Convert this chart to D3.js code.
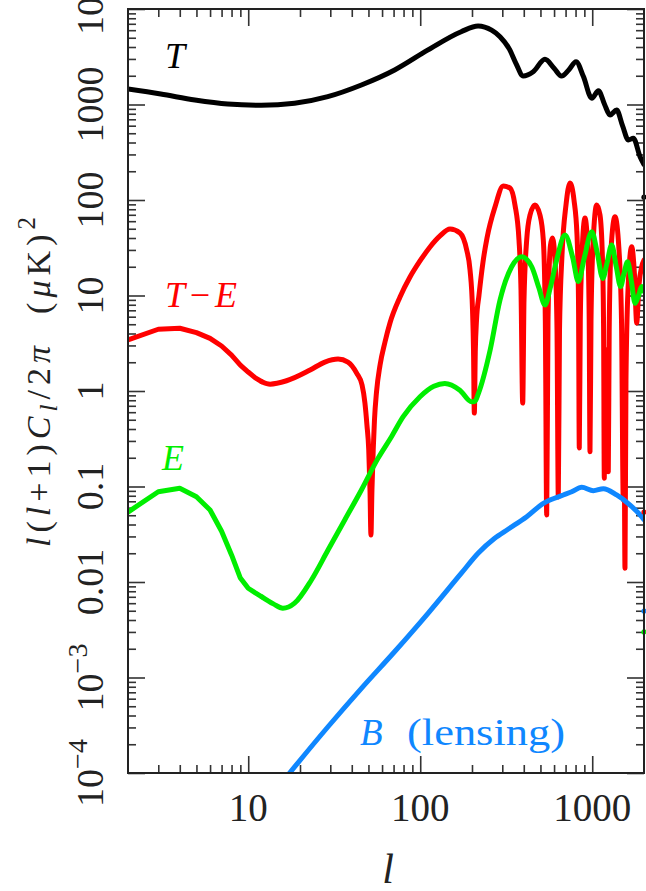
<!DOCTYPE html>
<html><head><meta charset="utf-8">
<script src="https://cdn.jsdelivr.net/npm/d3@7"></script>
<style>
html,body{margin:0;padding:0;background:#fff;overflow:hidden}
svg{display:block}
svg text{font-family:"Liberation Serif","DejaVu Serif","Noto Serif","Tinos","Times New Roman",serif;}
</style></head><body>
<svg id="chart" width="646" height="891" font-family="Liberation Serif, DejaVu Serif, serif"></svg>
<script>
// Band powers l(l+1)C_l/2π in μK² against multipole l

// Temperature (T)
const tL = [2, 3.1, 4.9, 7.6, 11.9, 18.6, 29, 45.5, 71, 111, 173, 217, 260, 291, 330, 360, 397, 454, 531, 600, 663, 730, 805, 889, 994, 1087, 1180, 1269, 1387, 1500, 1622, 1734, 1897, 2000];
const tV = [1450, 1288, 1115, 1012, 982, 1030, 1208, 1600, 2297, 3725, 5780, 6640, 6000, 5129, 3800, 2700, 1990, 2203, 2972, 2400, 1986, 2300, 2805, 1960, 1162, 1396, 1000, 776, 875, 600, 425, 443, 284, 235];

// Temperature-polarization cross spectrum (|T-E|)
const teL = [2, 3, 4, 5, 6, 7, 8, 9, 10, 11, 12, 13.4, 16.7, 22.9, 27.9, 33.3, 38, 42.7, 45.9, 47.7, 49, 50.2, 51.05, 51.7, 52.4, 53.3, 54.2, 55.7, 58.4, 62.4, 66.7, 76.3, 87.2, 99.7, 114, 130.3, 149, 170.3, 186.3, 194.8, 201.4, 204.1, 206.3, 209.1, 212.5, 219.7, 231.7, 244.5, 272.1, 304.1, 332.5, 355.6, 375.2, 385.4, 394.3, 401.2, 415.9, 434.7, 464.8, 497, 519.5, 533.7, 543.7, 553.3, 572, 587.5, 607.6, 624.1, 635, 645.3, 667.3, 703.9, 742.6, 783.4, 815.6, 832.1, 841, 852.5, 872, 907.8, 945, 960.3, 970.6, 983.9, 1010.4, 1061.7, 1109.7, 1147.4, 1164.5, 1175.5, 1186.7, 1207.4, 1227, 1240, 1255.2, 1285.6, 1356.4, 1431.2, 1479.7, 1515.9, 1532, 1550.5, 1571.3, 1614.2, 1696.1, 1761, 1813.7, 1870, 1939, 2000];
const teV = [3.42, 4.43, 4.54, 4.08, 3.56, 2.96, 2.38, 1.87, 1.58, 1.37, 1.25, 1.18, 1.28, 1.66, 2.01, 2.16, 2.01, 1.54, 1.156, 0.748, 0.441, 0.241, 0.0919, 0.031, 0.0919, 0.241, 0.497, 0.976, 1.87, 3.26, 5.15, 9.64, 15.6, 23.0, 32.2, 42.0, 49.7, 45.1, 29.9, 18.5, 7.05, 2.69, 0.588, 2.69, 5.54, 10.1, 22.4, 40.0, 84.5, 140.2, 133.6, 88.6, 38.1, 11.4, 0.748, 8.97, 38.1, 69.6, 88.6, 69.6, 38.1, 5.54, 0.0503, 5.54, 33.8, 40.0, 23.5, 4.35, 0.0776, 4.35, 26.6, 88.6, 150.7, 100, 43.0, 8.97, 0.253, 5.54, 26.6, 64.8, 26.6, 5.54, 0.231, 5.54, 33.8, 88.6, 69.6, 23.5, 4.35, 0.122, 1.30, 2.69, 1.30, 0.143, 4.35, 29.9, 66.9, 29.9, 5.54, 0.0722, 0.39, 0.0139, 1.30, 11.4, 32.4, 16.4, 5.15, 12.9, 20, 23.5];

// E-mode polarization
const eL = [2, 3, 4, 5, 6, 7, 8, 9, 10, 11, 12, 14, 15.9, 18.6, 23.3, 29.1, 36.4, 45.5, 56.8, 67.9, 79.6, 99.7, 120, 139, 170, 199, 208, 218, 255, 291, 340, 389, 445, 490, 531, 570, 621, 695, 770, 830, 900, 994, 1070, 1151, 1220, 1297, 1380, 1463, 1530, 1606, 1690, 1774, 1860, 1938, 2000];
const eV = [0.054, 0.0882, 0.0957, 0.078, 0.0568, 0.034, 0.0192, 0.011, 0.0086, 0.0077, 0.007, 0.0059, 0.0053, 0.006, 0.0105, 0.0216, 0.0446, 0.0918, 0.197, 0.33, 0.538, 0.871, 1.12, 1.2, 1.02, 0.77, 0.78, 0.946, 2.69, 8.97, 20, 25.5, 20, 12, 7.96, 12, 23.5, 43, 25, 14, 25, 46.6, 28, 15.1, 22, 33.8, 20, 12.4, 17, 22.6, 14, 8.28, 10, 12.4, 11];

// Lensing-induced B-mode polarization
const bL = [15, 17.4, 29.1, 45.5, 70.9, 111, 173, 217, 271, 324, 416, 520, 679, 760, 869, 1015, 1160, 1387, 1660, 1938, 2000];
const bV = [7.2e-5, 1e-4, 3.05e-4, 7.7e-4, 1.86e-3, 4.7e-3, 0.0123, 0.02, 0.0287, 0.0357, 0.0483, 0.0667, 0.0815, 0.088, 0.098, 0.0904, 0.0948, 0.0815, 0.064, 0.0483, 0.045];

// stray end-point marks sitting on the right frame at l = 2000
const edgeVals = [107, 0.054, 0.00497, 0.003];
const edgeColors = ["#000000", "#ff0000", "#0f87ff", "#00ee00"];

// axis tick values and labels
const yDecades = [1e-4, 1e-3, 0.01, 0.1, 1, 10, 100, 1000, 1e4];
const yTickLabels = [["10", "\u22124"], ["10", "\u22123"], ["0.01"], ["0.1"], ["1"], ["10"], ["100"], ["1000"], ["10", "4"]];
const xDecades = [10, 100, 1000];
const xTickLabels = ["10", "100", "1000"];

const colT = "#000000", colTE = "#ff0000", colE = "#00ee00", colB = "#0f87ff";
const serif = "Liberation Serif, DejaVu Serif, Noto Serif, serif";

const svg = d3.select("#chart");
const M = {left: 128, right: 644, top: 9, bottom: 773};

const x = d3.scaleLog().domain([2, 2000]).range([M.left, M.right]);
const y = d3.scaleLog().domain([1e-4, 1e4]).range([M.bottom, M.top]);

const yMinor = [];
for (let e = -4; e < 4; e++) for (let m = 2; m <= 9; m++) yMinor.push(m * Math.pow(10, e));
const xMinor = [];
for (let e = 0; e < 4; e++) for (let m = 2; m <= 9; m++) {
  const v = m * Math.pow(10, e);
  if (v > 2 && v < 2000) xMinor.push(v);
}

// ticks on all four sides, pointing inward
function tickLayer(axis, tr) {
  const g = svg.append("g").attr("transform", tr).call(axis);
  g.select(".domain").remove();
  g.selectAll(".tick text").remove();
  g.selectAll(".tick line").attr("stroke", "#333").attr("stroke-width", 1.6);
}
tickLayer(d3.axisLeft(y).tickValues(yDecades).tickSize(-17), `translate(${M.left},0)`);
tickLayer(d3.axisLeft(y).tickValues(yMinor).tickSize(-8), `translate(${M.left},0)`);
tickLayer(d3.axisRight(y).tickValues(yDecades).tickSize(-17), `translate(${M.right},0)`);
tickLayer(d3.axisRight(y).tickValues(yMinor).tickSize(-8), `translate(${M.right},0)`);
tickLayer(d3.axisBottom(x).tickValues(xDecades).tickSize(-17), `translate(0,${M.bottom})`);
tickLayer(d3.axisBottom(x).tickValues(xMinor).tickSize(-8), `translate(0,${M.bottom})`);
tickLayer(d3.axisTop(x).tickValues(xDecades).tickSize(-17), `translate(0,${M.top})`);
tickLayer(d3.axisTop(x).tickValues(xMinor).tickSize(-8), `translate(0,${M.top})`);

// curves, clipped to the plotting box
svg.append("clipPath").attr("id", "plotClip").append("rect")
  .attr("x", M.left).attr("y", M.top).attr("width", M.right - M.left).attr("height", M.bottom - M.top);
const plot = svg.append("g").attr("clip-path", "url(#plotClip)");

function drawSeries(L, V, color, splitAt) {
  const pts = L.map((l, i) => [l, V[i]]);
  const smooth = d3.line().x(d => x(d[0])).y(d => y(d[1])).curve(d3.curveMonotoneX);
  const straight = d3.line().x(d => x(d[0])).y(d => y(d[1])).curve(d3.curveLinear);
  const parts = splitAt ? [[pts.filter(p => p[0] <= splitAt), straight], [pts.filter(p => p[0] >= splitAt), smooth]] : [[pts, smooth]];
  parts.forEach(([p, gen]) => {
    plot.append("path").attr("d", gen(p)).attr("fill", "none").attr("stroke", color)
      .attr("stroke-width", 5).attr("stroke-linejoin", "round").attr("stroke-linecap", "round");
  });
}
drawSeries(tL, tV, colT, null);
drawSeries(teL, teV, colTE, 12);
drawSeries(eL, eV, colE, 12);
drawSeries(bL, bV, colB, null);

svg.append("g").selectAll("circle").data(edgeVals).join("circle")
  .attr("cx", x(2000)).attr("cy", d => y(d)).attr("r", 2.6)
  .attr("fill", (d, i) => edgeColors[i]);

// frame
svg.append("rect").attr("x", M.left).attr("y", M.top)
  .attr("width", M.right - M.left).attr("height", M.bottom - M.top)
  .attr("fill", "none").attr("stroke", "#222").attr("stroke-width", 2);

// y tick labels, rotated
const yl = svg.append("g").attr("fill", "#222").attr("font-size", 38).attr("font-family", serif);
yTickLabels.forEach((parts, i) => {
  const t = yl.append("text")
    .attr("transform", `translate(103,${y(yDecades[i])}) rotate(-90)`)
    .attr("text-anchor", "middle");
  t.append("tspan").text(parts[0]);
  if (parts[1]) t.append("tspan").attr("font-size", 28).attr("dy", -16).text(parts[1]);
});

// x tick labels
svg.append("g").attr("fill", "#222").attr("font-size", 39).attr("font-family", serif)
  .selectAll("text").data(xDecades).join("text")
  .attr("x", d => x(d)).attr("y", 821).attr("text-anchor", "middle")
  .text((d, i) => xTickLabels[i]);

// axis titles
svg.append("text").attr("x", 388).attr("y", 883).attr("text-anchor", "middle").attr("font-family", serif)
  .attr("font-size", 42).attr("font-style", "italic").attr("fill", "#222").text("l");

const yt = svg.append("text")
  .attr("transform", "translate(50,382) rotate(-90)").attr("font-family", serif)
  .attr("text-anchor", "middle").attr("font-size", 34).attr("fill", "#222")
  .attr("textLength", 330).attr("lengthAdjust", "spacing");
yt.append("tspan").attr("font-style", "italic").text("l");
yt.append("tspan").text("(");
yt.append("tspan").attr("font-style", "italic").text("l");
yt.append("tspan").text("+1)");
yt.append("tspan").attr("font-style", "italic").text("C");
yt.append("tspan").attr("font-style", "italic").attr("font-size", 25).attr("dy", 7).text("l");
yt.append("tspan").attr("dy", -7).text("/2");
yt.append("tspan").attr("font-style", "italic").text("\u03c0");
yt.append("tspan").text("\u00a0\u00a0(");
yt.append("tspan").attr("font-style", "italic").text("\u03bc");
yt.append("tspan").text("K)");
yt.append("tspan").attr("font-size", 25).attr("dy", -15).text("2");

// curve labels
const labels = svg.append("g").attr("font-family", serif);
labels.append("text").attr("x", 165).attr("y", 68).attr("font-size", 36)
  .attr("font-style", "italic").attr("fill", colT).text("T");
const teLab = labels.append("text").attr("x", 165).attr("y", 307).attr("font-size", 36)
  .attr("fill", colTE).attr("textLength", 72).attr("lengthAdjust", "spacing");
teLab.append("tspan").attr("font-style", "italic").text("T");
teLab.append("tspan").text("\u2212");
teLab.append("tspan").attr("font-style", "italic").text("E");
labels.append("text").attr("x", 162).attr("y", 470).attr("font-size", 36)
  .attr("font-style", "italic").attr("fill", colE).text("E");
labels.append("text").attr("x", 360).attr("y", 745).attr("font-size", 37)
  .attr("font-style", "italic").attr("fill", colB).text("B");
labels.append("text").attr("x", 407).attr("y", 745).attr("font-size", 37)
  .attr("fill", colB).attr("textLength", 158).attr("lengthAdjust", "spacingAndGlyphs").text("(lensing)");
</script>
</body></html>
